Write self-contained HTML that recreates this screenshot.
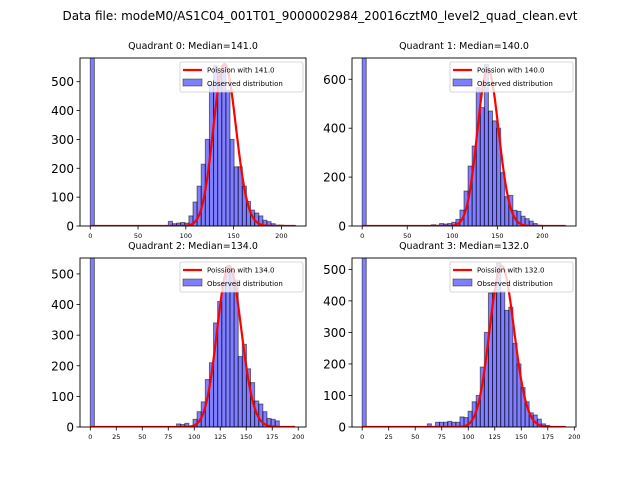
<!DOCTYPE html>
<html><head><meta charset="utf-8">
<style>
body{margin:0;background:#fff;}
svg{display:block;font-family:"DejaVu Sans","Liberation Sans",sans-serif;}
</style></head>
<body>
<svg id="fig" width="640" height="480" viewBox="0 0 640 480" xmlns="http://www.w3.org/2000/svg">
<rect width="640" height="480" fill="#fff"/>
<text x="320" y="20" font-size="12" text-anchor="middle">Data file: modeM0/AS1C04_001T01_9000002984_20016cztM0_level2_quad_clean.evt</text>
</svg>
<script>
const quadTitles = ["Quadrant 0: Median=141.0","Quadrant 1: Median=140.0","Quadrant 2: Median=134.0","Quadrant 3: Median=132.0"];
const medians = [141.0, 140.0, 134.0, 132.0];
const binMax = [215, 226, 197.6, 192];
const yMax = [582, 687, 552, 536];
const poissonPeak = [561, 640, 526, 511];
const yTicks0 = [0,100,200,300,400,500];
const yTicks1 = [0,200,400,600];
const yTicks2 = [0,100,200,300,400,500];
const yTicks3 = [0,100,200,300,400,500];
const xTicksTop = [0,50,100,150,200];
const xTicksBottom = [0,25,50,75,100,125,150,175,200];
const counts0 = [5000,0,0,0,0,0,0,0,0,0,0,0,0,0,0,0,0,0,0,16,8,10,12,10,35,83,138,214,300,490,555,530,555,470,300,205,205,138,85,55,45,35,20,15,8,3,3,0,0,0];
const counts1 = [5000,0,0,0,0,0,0,0,0,0,0,0,0,0,0,0,0,5,3,10,8,10,15,27,65,143,245,327,566,484,660,470,430,400,218,120,125,64,60,40,30,20,10,3,0,0,0,0,0,0];
const counts2 = [5000,0,0,0,0,0,0,0,0,0,0,0,0,0,0,0,0,0,0,0,0,10,8,12,3,25,50,82,155,210,340,410,470,525,510,480,230,270,190,145,85,75,50,28,25,20,0,0,0,0];
const counts3 = [5000,0,0,0,0,0,0,0,0,0,0,0,0,0,0,0,10,0,15,15,15,18,15,15,32,30,50,80,100,190,300,425,425,520,430,370,380,265,200,125,80,45,38,25,10,5,0,0,0,0];

const NS="http://www.w3.org/2000/svg";
const svg=document.getElementById('fig');
function mk(tag,attrs,parent){const e=document.createElementNS(NS,tag);for(const k in attrs)e.setAttribute(k,attrs[k]);(parent||svg).appendChild(e);return e;}
function lgamma(z){ // Stirling series
  if(z<7){let p=1;while(z<7){p*=z;z+=1;}return lgamma(z)-Math.log(p);}
  return (z-0.5)*Math.log(z)-z+0.5*Math.log(2*Math.PI)+1/(12*z)-1/(360*z*z*z);
}
const boxes=[[80,306,58,226],[352,576,58,226],[80,306,258,427],[352,576,258,427]];
const allCounts=[counts0,counts1,counts2,counts3];
const allYTicks=[yTicks0,yTicks1,yTicks2,yTicks3];
let clipId=0;
for(let q=0;q<4;q++){
  const [L,R,T,B]=boxes[q];
  const xmax=binMax[q];
  const x0=-0.05*xmax, x1=1.05*xmax;
  const X=v=>L+(v-x0)/(x1-x0)*(R-L);
  const Y=v=>B-v/yMax[q]*(B-T);
  const g=mk('g',{});
  
  
  const cp=mk('clipPath',{id:'c'+q},g);
  mk('rect',{x:L,y:T,width:R-L,height:B-T},cp);
  const title=mk('text',{x:(L+R)/2,y:T-9,'font-size':'9.5','text-anchor':'middle'},g);
  title.textContent=quadTitles[q];
  
  
  const counts=allCounts[q];
  const bw=xmax/counts.length;
  const bars=mk('g',{'clip-path':'url(#c'+q+')'},g);
  counts.forEach((c,i)=>{
    if(c<=0)return;
    const r=mk('rect',{x:X(i*bw),y:Y(c),width:X((i+1)*bw)-X(i*bw),height:Y(0)-Y(c),fill:'rgba(0,0,255,0.5)',stroke:'rgba(0,0,0,0.5)','stroke-width':'1'},bars);
    
    
  });
  // poisson curve
  const lam=medians[q];
  const lref=lam*Math.log(lam)-lam-lgamma(lam+1);
  let d='';
  for(let k=0;k<=Math.floor(xmax);k++){
    const lp=k*Math.log(Math.max(lam,1e-9))-lam-lgamma(k+1);
    const v=poissonPeak[q]*Math.exp(lp-lref);
    d+=(k?'L':'M')+X(k).toFixed(2)+','+Y(v).toFixed(2);
  }
  const pl=mk('path',{d:d,fill:'none',stroke:'#ff0000','stroke-width':'2.2','clip-path':'url(#c'+q+')'},g);
  
  
  // axes frame
  const fr=mk('rect',{x:L,y:T,width:R-L,height:B-T,fill:'none',stroke:'#000','stroke-width':'0.9'},g);
  
  
  // y ticks
  allYTicks[q].forEach(t=>{
    const y=Y(t);
    mk('line',{x1:L-3.5,x2:L,y1:y,y2:y,stroke:'#000','stroke-width':'0.8'},g);
    const tx=mk('text',{x:L-6,y:y+4.5,'font-size':'12','text-anchor':'end'},g);
    tx.textContent=t;
    
    
  });
  const xt=q<2?xTicksTop:xTicksBottom;
  xt.forEach(t=>{
    const x=X(t);
    mk('line',{x1:x,x2:x,y1:B,y2:B+3.5,stroke:'#000','stroke-width':'0.8'},g);
    const tx=mk('text',{x:x,y:B+12,'font-size':'6.5','text-anchor':'middle'},g);
    tx.textContent=t;
    
    
  });
  // legend
  const lg=mk('g',{},g);
  
  
  const lx=R-126, ly=T+4;
  mk('rect',{x:lx,y:ly,width:123,height:30,rx:2,fill:'rgba(255,255,255,0.8)',stroke:'#ccc','stroke-width':'0.8'},lg);
  mk('line',{x1:lx+3,x2:lx+22,y1:ly+8,y2:ly+8,stroke:'#ff0000','stroke-width':'2.2'},lg);
  const t1=mk('text',{x:lx+27,y:ly+10.5,'font-size':'7'},lg);
  t1.textContent='Poission with '+lam.toFixed(1);
  
  
  mk('rect',{x:lx+3,y:ly+17,width:19,height:7,fill:'rgba(0,0,255,0.5)',stroke:'rgba(0,0,0,0.5)','stroke-width':'0.8'},lg);
  const t2=mk('text',{x:lx+27,y:ly+24,'font-size':'7'},lg);
  t2.textContent='Observed distribution';
  
  
}
</script>
</body></html>
